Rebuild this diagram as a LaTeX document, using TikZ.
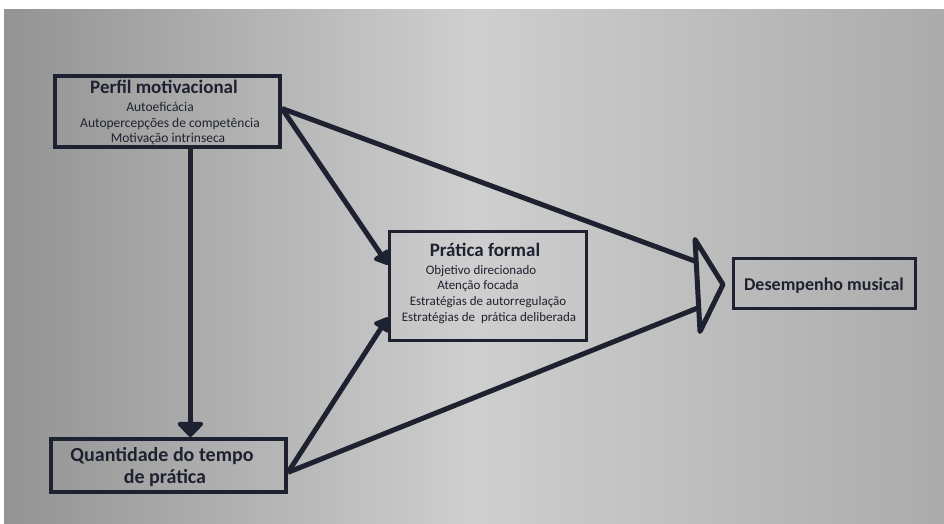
\documentclass[tikz,border=0pt]{standalone}
\usepackage{fontspec}
\setmainfont{Carlito}
\usetikzlibrary{arrows.meta,calc}
\definecolor{ink}{HTML}{1E2230}
\definecolor{bgL}{HTML}{939393}
\definecolor{bgM}{HTML}{CFCFCF}
\definecolor{bgR}{HTML}{ABABAB}
\begin{document}
\begin{tikzpicture}[x=1pt,y=-1pt,
  box/.style={draw=ink,line width=4pt,inner sep=0pt},
  thinbox/.style={draw=ink,line width=3pt,inner sep=0pt},
  ttl/.style={font=\bfseries\fontsize{19}{19}\selectfont,text=ink,anchor=base,inner sep=0pt},
  subt/.style={font=\fontsize{13.5}{13.5}\selectfont,text=ink,anchor=base,inner sep=0pt},
  subf/.style={font=\fontsize{13}{13}\selectfont,text=ink,anchor=base,inner sep=0pt},
  link/.style={draw=ink,line width=5pt,-{Triangle[width=20pt,length=15pt,round]}},
  plain/.style={draw=ink,line width=5pt},
]
\useasboundingbox (0,0) rectangle (944,523);
\fill[white] (0,0) rectangle (944,523);
\shade[left color=bgL,right color=bgR,middle color=bgM] (4,9) rectangle (944,523);

% boxes
\node[box,minimum width=225pt,minimum height=71pt] (perfil) at (167.5,111.5) {};
\node[box,minimum width=235pt,minimum height=53pt] (quant) at (168.5,465.5) {};
\node[thinbox,minimum width=197pt,minimum height=109pt] (pratica) at (488,286) {};
\node[thinbox,minimum width=182pt,minimum height=50pt] (desemp) at (824.5,283.5) {};

% texts
\node[ttl] (t1) at (164,93) {Perfil motivacional};
\node[subt] (t1a) at (160,111) {Autoeficácia};
\node[subt] (t1b) at (170,127) {Autopercepções de competência};
\node[subt] (t1c) at (168,142) {Motivação intrinseca};

\node[ttl,font=\bfseries\fontsize{20}{20}\selectfont] (t2) at (162,461) {Quantidade do tempo};
\node[ttl,font=\bfseries\fontsize{20}{20}\selectfont] (t2b) at (165,483) {de prática};

\node[ttl] (t3) at (485,256) {Prática formal};
\node[subf] (t3a) at (481,274) {Objetivo direcionado};
\node[subf] (t3b) at (478,289) {Atenção focada};
\node[subf] (t3c) at (488,305) {Estratégias de autorregulação};
\node[subf] (t3d) at (489,321) {Estratégias de\ \ prática deliberada};

\node[font=\bfseries\fontsize{18}{18}\selectfont,text=ink,anchor=base,inner sep=0pt] (t4) at (824,290) {Desempenho musical};

% connection points
\coordinate (pOut) at ($(perfil.north east)!0.46!(perfil.south east)$);
\coordinate (qOut) at ($(quant.north east)!0.62!(quant.south east)$);
\coordinate (fIn1) at ($(pratica.north west)!0.31!(pratica.south west)$);
\coordinate (fIn2) at ($(pratica.north west)!0.78!(pratica.south west)$);
\coordinate (vTop) at ($(perfil.south west)!0.6!(perfil.south east)$);

\coordinate (bigTip) at ($(desemp.west)+(-9,1)$);
\coordinate (bigTop) at ($(desemp.west)+(-37,-44)$);
\coordinate (bigBot) at ($(desemp.west)+(-32,48)$);
\coordinate (inA) at ($(bigTop)!0.24!(bigBot)$);
\coordinate (inB) at ($(bigTop)!0.74!(bigBot)$);

% connectors
\draw[draw=ink,line width=5pt,-{Triangle[width=30pt,length=16pt,round]}] (vTop) -- (vTop |- quant.north);
\draw[link] (pOut) -- (fIn1);
\draw[link] (qOut) -- (fIn2);
\draw[plain] (pOut) -- (inA);
\draw[plain] (qOut) -- (inB);
\draw[draw=ink,line width=5pt,line join=round] (bigTop) -- (bigTip) -- (bigBot) -- cycle;
\end{tikzpicture}
\end{document}
